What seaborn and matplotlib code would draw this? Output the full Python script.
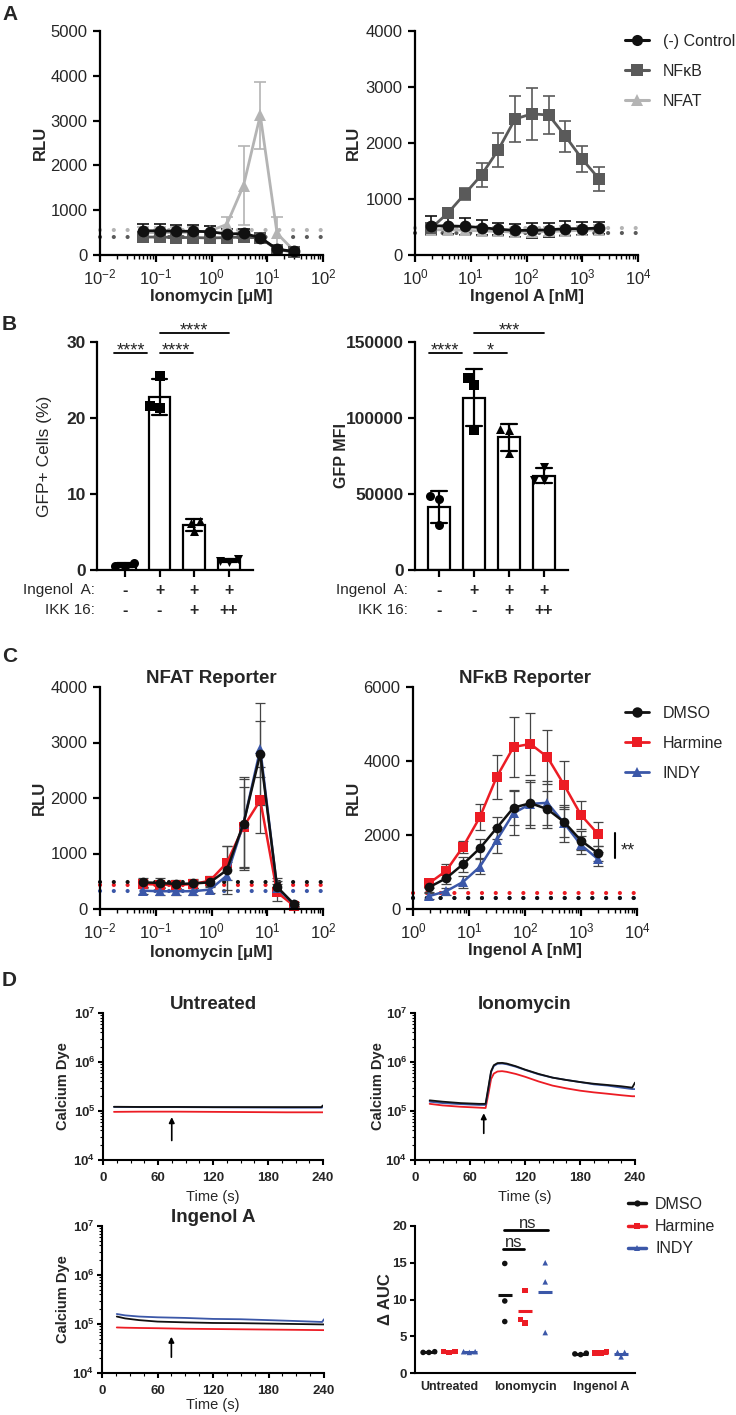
import numpy as np
import pandas as pd
import matplotlib
matplotlib.use("Agg")
import matplotlib.pyplot as plt
import matplotlib.transforms as mtrans
import seaborn as sns
from matplotlib.lines import Line2D
from matplotlib.ticker import LogLocator, NullFormatter, FuncFormatter, MultipleLocator, FixedLocator

# ---------------- data ----------------
# Panel A / C concentrations
iono_conc = [0.0586, 0.117, 0.234, 0.469, 0.9375, 1.875, 3.75, 7.5, 15, 30]
ing_conc = [1.95, 3.9, 7.8, 15.6, 31.25, 62.5, 125, 250, 500, 1000, 2000]

# Panel A, ionomycin
a_iono_ctrl = [540, 540, 530, 530, 520, 470, 480, 390, 130, 80]
a_iono_ctrl_sd = [150, 150, 150, 150, 120, 120, 110, 80, 60, 40]
a_iono_nfkb = [400, 400, 390, 390, 380, 390, 400, 380, 120, 70]
a_iono_nfkb_sd = [110, 100, 100, 100, 90, 90, 90, 80, 50, 30]
a_iono_nfat = [500, 500, 500, 510, 540, 680, 1550, 3120, 480, 100]
a_iono_nfat_sd = [120, 120, 120, 120, 100, 170, 890, 750, 370, 40]
a_iono_bg = {"NFAT": 550, "NFkB": 400}

# Panel A, ingenol
a_ing_ctrl = [520, 520, 510, 490, 460, 440, 440, 450, 470, 470, 480]
a_ing_ctrl_sd = [170, 150, 150, 130, 110, 120, 130, 130, 130, 120, 110]
a_ing_nfkb = [480, 750, 1090, 1430, 1880, 2430, 2520, 2500, 2120, 1710, 1360]
a_ing_nfkb_sd = [90, 80, 100, 210, 300, 410, 460, 340, 280, 230, 210]
a_ing_nfat = [450, 450, 440, 430, 420, 410, 410, 420, 430, 440, 450]
a_ing_nfat_sd = [80, 80, 80, 80, 80, 80, 80, 80, 80, 80, 80]
a_ing_bg = {"NFAT": 490, "NFkB": 400}

# Panel B
b_cats = ["c1", "c2", "c3", "c4"]
b_ingenol = ["-", "+", "+", "+"]
b_ikk = ["-", "-", "+", "++"]
b_gfp_pts = [[0.9, 0.5, 0.5], [25.5, 21.6, 21.3], [6.5, 6.2, 5.1], [1.5, 1.2, 1.1]]
b_mfi_pts = [[48700, 46700, 29600], [126300, 121700, 92100],
             [92800, 92300, 77000], [68000, 59500, 59000]]
b_gfp_stars = ["****", "****", "****"]
b_mfi_stars = ["****", "*", "***"]

# Panel C, ionomycin (NFAT reporter)
c_iono_dmso = [480, 470, 450, 460, 480, 700, 1540, 2800, 400, 90]
c_iono_dmso_sd = [80, 80, 80, 80, 80, 430, 840, 920, 150, 40]
c_iono_harm = [450, 440, 430, 450, 510, 830, 1480, 1960, 300, 60]
c_iono_harm_sd = [70, 70, 70, 70, 80, 300, 720, 590, 150, 30]
c_iono_indy = [330, 320, 320, 320, 350, 600, 1540, 2880, 380, 90]
c_iono_indy_sd = [60, 60, 60, 60, 60, 250, 800, 500, 120, 30]
c_iono_bg = {"DMSO": 480, "Harmine": 440, "INDY": 320}

# Panel C, ingenol (NFkB reporter)
c_ing_dmso = [590, 830, 1210, 1640, 2190, 2740, 2860, 2700, 2350, 1850, 1510]
c_ing_dmso_sd = [120, 150, 200, 260, 300, 480, 580, 500, 400, 250, 200]
c_ing_harm = [700, 1030, 1680, 2480, 3570, 4380, 4460, 4110, 3350, 2540, 2030]
c_ing_harm_sd = [120, 180, 170, 350, 600, 820, 850, 740, 650, 370, 320]
c_ing_indy = [350, 480, 730, 1140, 1860, 2590, 2840, 2870, 2320, 1730, 1350]
c_ing_indy_sd = [80, 100, 150, 200, 350, 600, 650, 600, 500, 250, 200]
c_ing_bg = {"DMSO": 300, "Harmine": 420, "INDY": 300}

# Panel D, calcium traces
t_untr = [12, 40, 80, 120, 160, 200, 238, 240]
d_untr_dmso = [1.22e5, 1.21e5, 1.21e5, 1.2e5, 1.2e5, 1.2e5, 1.2e5, 1.3e5]
d_untr_indy = [1.21e5, 1.2e5, 1.2e5, 1.19e5, 1.18e5, 1.17e5, 1.17e5, 1.2e5]
d_untr_harm = [0.96e5, 0.97e5, 0.97e5, 0.96e5, 0.95e5, 0.94e5, 0.94e5, 0.94e5]

t_iono = [16, 30, 50, 70, 77, 80, 83, 86, 90, 95, 100, 110, 120, 135, 150,
          165, 180, 195, 210, 225, 237, 240]
d_iono_dmso = [1.65e5, 1.55e5, 1.45e5, 1.4e5, 1.4e5, 3.0e5, 6.5e5, 8.6e5, 9.5e5,
               9.6e5, 9.3e5, 8.2e5, 7.0e5, 5.7e5, 4.8e5, 4.3e5, 3.9e5, 3.6e5,
               3.4e5, 3.2e5, 3.0e5, 3.8e5]
d_iono_indy = [1.55e5, 1.45e5, 1.38e5, 1.33e5, 1.33e5, 2.8e5, 6.2e5, 8.3e5, 9.2e5,
               9.3e5, 9.0e5, 8.0e5, 6.9e5, 5.6e5, 4.8e5, 4.3e5, 3.9e5, 3.5e5,
               3.3e5, 3.0e5, 2.8e5, 2.8e5]
d_iono_harm = [1.4e5, 1.3e5, 1.22e5, 1.17e5, 1.15e5, 2.2e5, 4.5e5, 5.8e5, 6.4e5,
               6.5e5, 6.3e5, 5.7e5, 5.0e5, 4.0e5, 3.3e5, 2.9e5, 2.6e5, 2.4e5,
               2.25e5, 2.1e5, 2.0e5, 2.0e5]

t_ing = [16, 25, 40, 60, 90, 120, 150, 180, 210, 238, 240]
d_ing_indy = [1.6e5, 1.5e5, 1.42e5, 1.37e5, 1.33e5, 1.27e5, 1.25e5, 1.2e5, 1.15e5, 1.1e5, 1.25e5]
d_ing_dmso = [1.42e5, 1.3e5, 1.2e5, 1.12e5, 1.08e5, 1.05e5, 1.04e5, 1.02e5, 1.0e5, 0.98e5, 0.98e5]
d_ing_harm = [0.85e5, 0.84e5, 0.83e5, 0.82e5, 0.8e5, 0.79e5, 0.78e5, 0.77e5, 0.76e5, 0.75e5, 0.75e5]

# Panel D, delta AUC
auc_groups = ["Untreated", "Ionomycin", "Ingenol A"]
auc_dmso = [[2.8, 2.9, 2.8], [14.9, 9.8, 7.0], [2.6, 2.5, 2.7]]
auc_harm = [[2.9, 2.9, 2.8], [11.2, 7.3, 6.8], [2.9, 2.7, 2.7]]
auc_indy = [[2.9, 2.8, 2.9], [15.0, 12.4, 5.5], [2.8, 2.8, 2.2]]

# ---------------- style ----------------
W, H = 736, 1415
sns.set_theme(style="ticks")
plt.rcParams["font.family"] = ["Liberation Sans", "DejaVu Sans"]
plt.rcParams["mathtext.fontset"] = "custom"
plt.rcParams["mathtext.rm"] = "Liberation Sans"
plt.rcParams["mathtext.it"] = "Liberation Sans:italic"
plt.rcParams["mathtext.bf"] = "Liberation Sans:bold"
plt.rcParams["axes.unicode_minus"] = True

GRAY_D = "#5a5a5a"
GRAY_L = "#b4b4b4"
RED = "#ec1c24"
BLUE = "#3b57a8"
BLACK = "#111111"

fig = plt.figure(figsize=(W / 100, H / 100), dpi=100)


def add_ax(l, t, r, b):
    return fig.add_axes([l / W, 1 - b / H, (r - l) / W, (b - t) / H])


def style_axes(ax, lw=1.6):
    for s in ("top", "right"):
        ax.spines[s].set_visible(False)
    for s in ("left", "bottom"):
        ax.spines[s].set_linewidth(lw)
        ax.spines[s].set_color("black")
    ax.tick_params(which="major", width=lw, length=5, color="black", direction="out")
    ax.tick_params(which="minor", width=1.0, length=3, color="black", direction="out")


def label_px(ax, box, xlab_y=None, ylab_x=None):
    l, t, r, b = box
    if ylab_x is not None:
        ax.yaxis.set_label_coords((ylab_x - l) / (r - l), 0.5)
    if xlab_y is not None:
        ax.xaxis.set_label_coords(0.5, (b - xlab_y) / (b - t))


def log_fmt(bold=False):
    if bold:
        return FuncFormatter(lambda v, p: r"$\mathbf{10^{%d}}$" % round(np.log10(v)))
    return FuncFormatter(lambda v, p: r"$\mathrm{10^{%d}}$" % round(np.log10(v)))


def dose_panel(ax, conc, means, sds, order, colors, markers, bg, ms, lw,
               err_col=None, err_lw=1.2, cap=4):
    rows = []
    for g in order:
        for c, v in zip(conc, means[g]):
            rows.append({"conc": c, "rlu": v, "group": g})
    df = pd.DataFrame(rows)
    for g in order:
        if g in bg:
            ax.axhline(bg[g], color=colors[g], lw=3, linestyle=(0, (0.01, 3.3)),
                       dash_capstyle="round", zorder=1)
    for g in order:
        ax.errorbar(conc, means[g], yerr=sds[g], fmt="none",
                    ecolor=err_col if err_col else colors[g], elinewidth=err_lw,
                    capsize=cap, capthick=err_lw, zorder=1.8, clip_on=False)
    sns.lineplot(data=df, x="conc", y="rlu", hue="group", style="group",
                 hue_order=order, style_order=order, palette=colors,
                 markers=markers, dashes=False, errorbar=None, lw=lw,
                 markersize=ms, markeredgewidth=0, legend=False, ax=ax)
    for ln in ax.lines:
        ln.set_clip_on(False)
    ax.set_xscale("log")
    ax.xaxis.set_major_locator(LogLocator(base=10, numticks=10))
    ax.xaxis.set_minor_locator(LogLocator(base=10, subs=np.arange(2, 10), numticks=20))
    ax.xaxis.set_minor_formatter(NullFormatter())
    ax.xaxis.set_major_formatter(log_fmt())


def make_legend(ax, labels, colors, markers, left, top, fs, spacing, hl, htp, ms, lw):
    handles = [Line2D([0], [0], color=colors[k], marker=markers[k], ms=ms, mew=0, lw=lw)
               for k in labels]
    names = [k.replace("NFkB", "NFκB") for k in labels]
    ax.legend(handles, names, loc="upper left", bbox_to_anchor=(left / W, 1 - top / H),
              bbox_transform=fig.transFigure, frameon=False, borderpad=0,
              borderaxespad=0, fontsize=fs, labelspacing=spacing,
              handlelength=hl, handletextpad=htp)


def stars_text(ax, x, y, s, fs=13, dy=-2.0):
    ax.annotate(s, xy=(x, y), xytext=(0, dy), textcoords="offset points",
                ha="center", va="baseline", fontsize=fs, annotation_clip=False)


# ---------------- Panel A ----------------
a_colors = {"(-) Control": BLACK, "NFkB": GRAY_D, "NFAT": GRAY_L}
a_markers = {"(-) Control": "o", "NFkB": "s", "NFAT": "^"}
a_order = ["NFAT", "NFkB", "(-) Control"]

boxA1 = (100, 31, 323, 255)
ax = add_ax(*boxA1)
dose_panel(ax, iono_conc,
           {"(-) Control": a_iono_ctrl, "NFkB": a_iono_nfkb, "NFAT": a_iono_nfat},
           {"(-) Control": a_iono_ctrl_sd, "NFkB": a_iono_nfkb_sd, "NFAT": a_iono_nfat_sd},
           a_order, a_colors, a_markers, a_iono_bg, ms=8.5, lw=2)
ax.set_xlim(1e-2, 1e2)
ax.set_ylim(0, 5000)
ax.yaxis.set_major_locator(MultipleLocator(1000))
ax.set_xlabel("Ionomycin [μM]", fontsize=12, fontweight="bold", va="center")
ax.set_ylabel("RLU", fontsize=12, fontweight="bold", va="center")
style_axes(ax)
ax.tick_params(labelsize=12, pad=4)
label_px(ax, boxA1, xlab_y=297, ylab_x=40)

boxA2 = (415, 31, 638, 255)
ax = add_ax(*boxA2)
dose_panel(ax, ing_conc,
           {"(-) Control": a_ing_ctrl, "NFkB": a_ing_nfkb, "NFAT": a_ing_nfat},
           {"(-) Control": a_ing_ctrl_sd, "NFkB": a_ing_nfkb_sd, "NFAT": a_ing_nfat_sd},
           a_order, a_colors, a_markers, a_ing_bg, ms=8.5, lw=2)
ax.set_xlim(1, 1e4)
ax.set_ylim(0, 4000)
ax.yaxis.set_major_locator(MultipleLocator(1000))
ax.set_xlabel("Ingenol A [nM]", fontsize=12, fontweight="bold", va="center")
ax.set_ylabel("RLU", fontsize=12, fontweight="bold", va="center")
style_axes(ax)
ax.tick_params(labelsize=12, pad=4)
label_px(ax, boxA2, xlab_y=297, ylab_x=353)
make_legend(ax, ["(-) Control", "NFkB", "NFAT"], a_colors, a_markers,
            625, 34, 11.5, 0.93, 1.5, 0.85, 8, 2.2)


# ---------------- Panel B ----------------
def bar_panel(ax, box, pts, xlim, stars, ylim, yticks, ylabel, ylab_bold, ylab_fs,
              ylab_x, row_label_x):
    rows = []
    for c, vals in zip(b_cats, pts):
        for v in vals:
            rows.append({"cat": c, "val": v})
    df = pd.DataFrame(rows)
    sns.barplot(data=df, x="cat", y="val", order=b_cats, errorbar="sd", fill=False,
                color="black", linewidth=1.6, width=0.63, capsize=0.45,
                err_kws={"linewidth": 1.6, "color": "black"}, ax=ax)
    for c, m in zip(b_cats, ["o", "s", "^", "v"]):
        sns.swarmplot(data=df[df["cat"] == c], x="cat", y="val", order=b_cats,
                      marker=m, color="black", size=6.5, linewidth=0, ax=ax,
                      zorder=3, clip_on=False)
    for coll in ax.collections:
        coll.set_clip_on(False)
    ax.set_xlim(*xlim)
    ax.set_ylim(*ylim)
    ax.yaxis.set_major_locator(FixedLocator(yticks))
    ax.set_xlabel("")
    ax.set_xticklabels([])
    ax.set_ylabel(ylabel, fontsize=ylab_fs, fontweight="bold" if ylab_bold else "normal",
                  va="center")
    style_axes(ax)
    ax.tick_params(labelsize=12.5, pad=3)
    for lab in ax.get_yticklabels():
        lab.set_fontweight("bold")
    label_px(ax, box, ylab_x=ylab_x)
    # significance bars
    top = ylim[1]
    brackets = [(-0.3, 0.65, 0.952), (1.0, 1.95, 0.952), (1.0, 3.0, 1.04)]
    for (x0, x1, yf), s in zip(brackets, stars):
        ax.plot([x0, x1], [yf * top, yf * top], color="black", lw=1.3, clip_on=False)
        stars_text(ax, (x0 + x1) / 2, yf * top, s)
    # treatment rows
    tr = mtrans.blended_transform_factory(ax.transData, ax.transAxes)
    l, t, r, b = box
    for row_y, name, signs in [(590, "Ingenol  A:", b_ingenol), (610, "IKK 16:", b_ikk)]:
        yax = (b - row_y) / (b - t)
        for i, s in enumerate(signs):
            ax.text(i, yax, s, transform=tr, ha="center", va="center", fontsize=11.5,
                    fontweight="bold")
        ax.text((row_label_x - l) / (r - l), yax, name, transform=ax.transAxes,
                ha="right", va="center", fontsize=11)


boxB1 = (97, 342, 253, 570)
ax = add_ax(*boxB1)
bar_panel(ax, boxB1, b_gfp_pts, (-0.8, 3.69), b_gfp_stars, (0, 30), [0, 10, 20, 30],
          "GFP+ Cells (%)", False, 12.5, 44, 95)

boxB2 = (415, 342, 568, 570)
ax = add_ax(*boxB2)
bar_panel(ax, boxB2, b_mfi_pts, (-0.69, 3.69), b_mfi_stars, (0, 150000),
          [0, 50000, 100000, 150000], "GFP MFI", True, 11.5, 342, 408)


# ---------------- Panel C ----------------
c_colors = {"DMSO": BLACK, "Harmine": RED, "INDY": BLUE}
c_markers = {"DMSO": "o", "Harmine": "s", "INDY": "^"}
c_order = ["Harmine", "INDY", "DMSO"]

boxC1 = (100, 687, 323, 909)
ax = add_ax(*boxC1)
dose_panel(ax, iono_conc,
           {"DMSO": c_iono_dmso, "Harmine": c_iono_harm, "INDY": c_iono_indy},
           {"DMSO": c_iono_dmso_sd, "Harmine": c_iono_harm_sd, "INDY": c_iono_indy_sd},
           c_order, c_colors, c_markers, c_iono_bg, ms=7, lw=1.8,
           err_col="#444444", err_lw=0.9, cap=3.5)
ax.set_xlim(1e-2, 1e2)
ax.set_ylim(0, 4000)
ax.yaxis.set_major_locator(MultipleLocator(1000))
ax.set_xlabel("Ionomycin [μM]", fontsize=12, fontweight="bold", va="center")
ax.set_ylabel("RLU", fontsize=12, fontweight="bold", va="center")
ax.set_title("NFAT Reporter", fontsize=13.5, fontweight="bold", pad=1)
style_axes(ax)
ax.tick_params(labelsize=12, pad=4)
label_px(ax, boxC1, xlab_y=952, ylab_x=39)

boxC2 = (413, 687, 637, 909)
ax = add_ax(*boxC2)
dose_panel(ax, ing_conc,
           {"DMSO": c_ing_dmso, "Harmine": c_ing_harm, "INDY": c_ing_indy},
           {"DMSO": c_ing_dmso_sd, "Harmine": c_ing_harm_sd, "INDY": c_ing_indy_sd},
           c_order, c_colors, c_markers, c_ing_bg, ms=7, lw=1.8,
           err_col="#444444", err_lw=0.9, cap=3.5)
ax.set_xlim(1, 1e4)
ax.set_ylim(0, 6000)
ax.yaxis.set_major_locator(MultipleLocator(2000))
ax.set_xlabel("Ingenol A [nM]", fontsize=12, fontweight="bold", va="center")
ax.set_ylabel("RLU", fontsize=12, fontweight="bold", va="center")
ax.set_title("NFκB Reporter", fontsize=13.5, fontweight="bold", pad=1)
style_axes(ax)
ax.tick_params(labelsize=12, pad=4)
label_px(ax, boxC2, xlab_y=950, ylab_x=353)
ax.plot([0.902, 0.902], [0.23, 0.342], transform=ax.transAxes, color="black", lw=1.5,
        clip_on=False)
ax.text(0.925, 0.243, "**", transform=ax.transAxes, ha="left", va="baseline", fontsize=13)
make_legend(ax, ["DMSO", "Harmine", "INDY"], c_colors, c_markers,
            625, 706, 11.5, 0.93, 1.5, 0.85, 7.5, 2)


# ---------------- Panel D traces ----------------
d_colors = {"DMSO": BLACK, "Harmine": RED, "INDY": BLUE}
d_order = ["Harmine", "INDY", "DMSO"]


def trace_panel(box, t, series, title, arrow, ylab_x, xlab_y):
    ax = add_ax(*box)
    rows = []
    for g in d_order:
        for tt, v in zip(t, series[g]):
            rows.append({"t": tt, "v": v, "treat": g})
    df = pd.DataFrame(rows)
    sns.lineplot(data=df, x="t", y="v", hue="treat", hue_order=d_order,
                 palette=d_colors, lw=1.3, errorbar=None, legend=False, ax=ax)
    ax.set_yscale("log")
    ax.set_ylim(1e4, 1e7)
    ax.set_xlim(0, 240)
    ax.yaxis.set_major_locator(LogLocator(base=10, numticks=10))
    ax.yaxis.set_minor_locator(LogLocator(base=10, subs=np.arange(2, 10), numticks=20))
    ax.yaxis.set_minor_formatter(NullFormatter())
    ax.yaxis.set_major_formatter(log_fmt(bold=True))
    ax.xaxis.set_major_locator(MultipleLocator(60))
    ax.xaxis.set_minor_locator(MultipleLocator(15))
    style_axes(ax, lw=1.5)
    ax.tick_params(which="major", length=3.5)
    ax.tick_params(which="minor", length=2, width=0.8)
    ax.tick_params(labelsize=9.5, pad=2)
    ax.tick_params(axis="x", pad=5)
    for lab in ax.get_xticklabels() + ax.get_yticklabels():
        lab.set_fontweight("bold")
    ax.set_title(title, fontsize=13.5, fontweight="bold", pad=-6)
    ax.set_ylabel("Calcium Dye", fontsize=10.5, fontweight="bold", va="center")
    ax.set_xlabel("Time (s)", fontsize=10.5, va="center")
    label_px(ax, box, xlab_y=xlab_y, ylab_x=ylab_x)
    ax.annotate("", xy=(arrow[0], arrow[1]), xytext=(arrow[0], arrow[2]),
                arrowprops=dict(arrowstyle="-|>", color="black", lw=1.2,
                                mutation_scale=8, shrinkA=0, shrinkB=0))
    return ax


boxD1 = (103, 1013, 323, 1160)
trace_panel(boxD1, t_untr, {"DMSO": d_untr_dmso, "Harmine": d_untr_harm, "INDY": d_untr_indy},
            "Untreated", (75, 7.5e4, 2.5e4), 63, 1197)

boxD2 = (415, 1013, 635, 1160)
trace_panel(boxD2, t_iono, {"DMSO": d_iono_dmso, "Harmine": d_iono_harm, "INDY": d_iono_indy},
            "Ionomycin", (75, 9e4, 3.5e4), 378, 1197)

boxD3 = (102, 1226, 324, 1373)
trace_panel(boxD3, t_ing, {"DMSO": d_ing_dmso, "Harmine": d_ing_harm, "INDY": d_ing_indy},
            "Ingenol A", (75, 5.5e4, 2.1e4), 63, 1405)

# ---------------- Panel D AUC ----------------
boxD4 = (415, 1226, 635, 1373)
ax = add_ax(*boxD4)
treats = ["DMSO", "Harmine", "INDY"]
auc_vals = {"DMSO": auc_dmso, "Harmine": auc_harm, "INDY": auc_indy}
rows = []
for tr_name in treats:
    for g, vals in zip(auc_groups, auc_vals[tr_name]):
        for v in vals:
            rows.append({"group": g, "auc": v, "treat": tr_name})
auc_df = pd.DataFrame(rows)
for tr_name, m in zip(treats, ["o", "s", "^"]):
    sns.swarmplot(data=auc_df[auc_df["treat"] == tr_name], x="group", y="auc",
                  hue="treat", hue_order=treats, order=auc_groups, dodge=True,
                  palette=d_colors, marker=m, size=4, linewidth=0, legend=False, ax=ax)
means = auc_df.groupby(["group", "treat"])["auc"].mean()
for i, g in enumerate(auc_groups):
    for j, tr_name in enumerate(treats):
        xc = i + (j - 1) * 0.8 / 3
        ax.hlines(means[(g, tr_name)], xc - 0.095, xc + 0.095, color=d_colors[tr_name],
                  lw=2.2, zorder=4)
ax.set_xlim(-0.45, 2.45)
ax.set_ylim(0, 20)
ax.yaxis.set_major_locator(MultipleLocator(5))
style_axes(ax, lw=1.5)
ax.tick_params(axis="x", length=0, pad=6)
ax.tick_params(axis="y", length=3.5, pad=2)
ax.tick_params(axis="x", labelsize=9)
ax.tick_params(axis="y", labelsize=9.5)
for lab in ax.get_xticklabels() + ax.get_yticklabels():
    lab.set_fontweight("bold")
ax.set_xlabel("")
ax.set_ylabel("Δ AUC", fontsize=12, fontweight="bold", va="center")
label_px(ax, boxD4, ylab_x=386)
for x0, x1, yv, tx in [(0.72, 1.30, 19.4, 1.03), (0.71, 0.99, 16.9, 0.85)]:
    ax.plot([x0, x1], [yv, yv], color="black", lw=2, clip_on=False)
    ax.annotate("ns", xy=(tx, yv), xytext=(0, 1.5), textcoords="offset points",
                ha="center", va="baseline", fontsize=12, annotation_clip=False)
d_markers = {"DMSO": "o", "Harmine": "s", "INDY": "^"}
make_legend(ax, treats, d_colors, d_markers, 628, 1197, 11.5, 0.45, 1.1, 0.6, 4.5, 2.5)

# ---------------- panel letters ----------------
for letter, ypx in [("A", 14), ("B", 324), ("C", 657), ("D", 980)]:
    fig.text(2 / W, 1 - ypx / H, letter, fontsize=15, fontweight="bold",
             ha="left", va="center")

fig.savefig("out.png", dpi=100)
